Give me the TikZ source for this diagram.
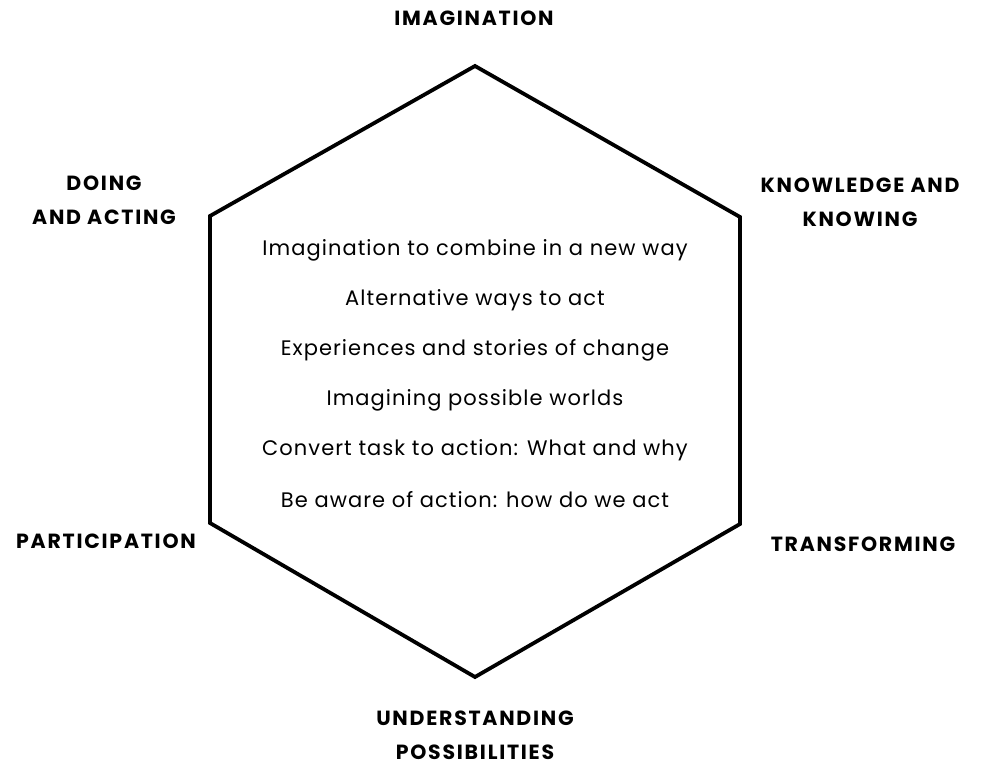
\documentclass[tikz,border=0pt]{standalone}
\usepackage{fontspec}
\setmainfont{Poppins}
\begin{document}
\begin{tikzpicture}[x=1pt,y=-1pt,
  label/.style={font=\fontsize{20.5}{34}\selectfont\bfseries\addfontfeatures{LetterSpace=8.5}, align=center, inner sep=0pt},
  item/.style={font=\fontsize{21}{24}\selectfont\addfontfeatures{LetterSpace=5}, inner sep=0pt},
  hexline/.style={line width=3.8pt, line join=miter}]
\useasboundingbox (0,0) rectangle (985,765);
% hexagon corners
\coordinate (t) at (475,66);
\coordinate (ur) at (740,217);
\coordinate (lr) at (740,524);
\coordinate (b) at (475,677);
\coordinate (ll) at (210,523);
\coordinate (ul) at (210,216);
\draw[hexline] (t) -- (ur) -- (lr) -- (b) -- (ll) -- (ul) -- cycle;
% corner labels
\node[label] (imag) at (474,18) {IMAGINATION};
\node[label] (doing) at (104,200) {DOING\\AND ACTING};
\node[label] (know) at (860,202) {KNOWLEDGE AND\\KNOWING};
\node[label] (part) at (106,541) {PARTICIPATION};
\node[label] (trans) at (863,544) {TRANSFORMING};
\node[label] (under) at (475,735) {UNDERSTANDING\\POSSIBILITIES};
% inner list
\node[item] (i1) at (475,250) {Imagination to combine in a new way};
\node[item] (i2) at (475,300) {Alternative ways to act};
\node[item] (i3) at (475,350) {Experiences and stories of change};
\node[item] (i4) at (475,400) {Imagining possible worlds};
\node[item] (i5) at (475,450) {Convert task to action: What and why};
\node[item] (i6) at (475,500) {Be aware of action: how do we act};
\end{tikzpicture}
\end{document}
